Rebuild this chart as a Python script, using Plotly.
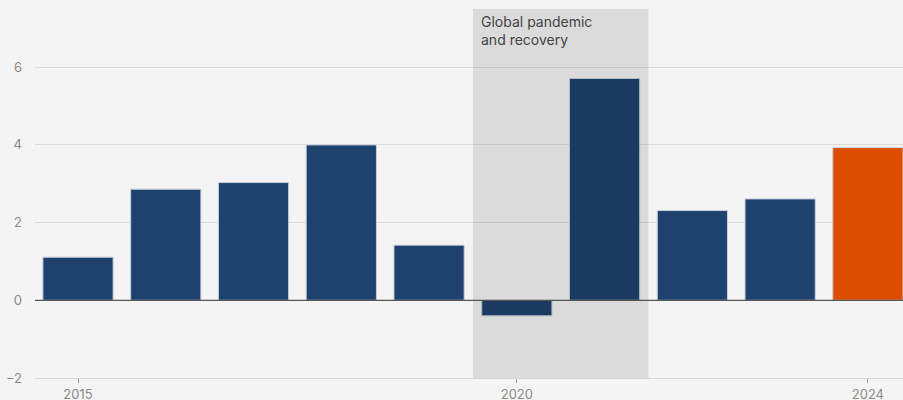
import plotly.graph_objects as go

years = [2015, 2016, 2017, 2018, 2019, 2020, 2021, 2022, 2023, 2024]
growth = [1.11, 2.86, 3.03, 4.0, 1.42, -0.40, 5.71, 2.31, 2.61, 3.93]
bar_colors = ["#1f416e"] * 9 + ["#dc4d01"]
x_ticks = [2015, 2020, 2024]
y_ticks = [-2, 0, 2, 4, 6]
shade_start, shade_end = 2019.5, 2021.5
shade_label = "Global pandemic<br>and recovery"

fig = go.Figure()
fig.add_trace(go.Bar(
    x=years, y=growth, width=0.8,
    marker=dict(color=bar_colors, line=dict(color="#c9d0da", width=1)),
    hoverinfo="x+y",
))

fig.add_shape(type="rect", xref="x", yref="y", x0=shade_start, x1=shade_end,
              y0=-2, y1=7.5, fillcolor="rgba(0,0,0,0.1)", line_width=0, layer="above")
fig.add_shape(type="line", xref="paper", yref="y", x0=0, x1=1, y0=0, y1=0,
              line=dict(color="#555555", width=1.2), layer="above")

fig.add_annotation(x=shade_start, y=7.5, xref="x", yref="y", text=shade_label,
                   showarrow=False, xanchor="left", yanchor="top", align="left",
                   xshift=6, yshift=-2,
                   font=dict(family="Inter, Lato, sans-serif", size=14, color="#444444"))

fig.update_layout(
    width=903, height=400,
    margin=dict(l=35, r=0, t=0, b=22),
    paper_bgcolor="#f4f4f4", plot_bgcolor="#f4f4f4",
    showlegend=False, bargap=0.2,
    font=dict(family="Inter, Lato, sans-serif", size=13, color="#8a8a8a"),
)
fig.update_xaxes(range=[2014.51, 2024.4], tickvals=x_ticks, ticks="outside",
                 ticklen=4, tickcolor="#999999", showgrid=False, zeroline=False,
                 showline=True, linecolor="#d6d6d6", linewidth=1,
                 ticklabelstandoff=0, automargin=False,
                 tickfont=dict(size=13, color="#8a8a8a"))
fig.update_yaxes(range=[-2, 7.73], tickvals=y_ticks, showgrid=True,
                 gridcolor="#dcdcdc", gridwidth=1, zeroline=False,
                 ticklabelstandoff=12, automargin=False,
                 tickfont=dict(size=13, color="#8a8a8a"))

fig.write_html("out.html")
